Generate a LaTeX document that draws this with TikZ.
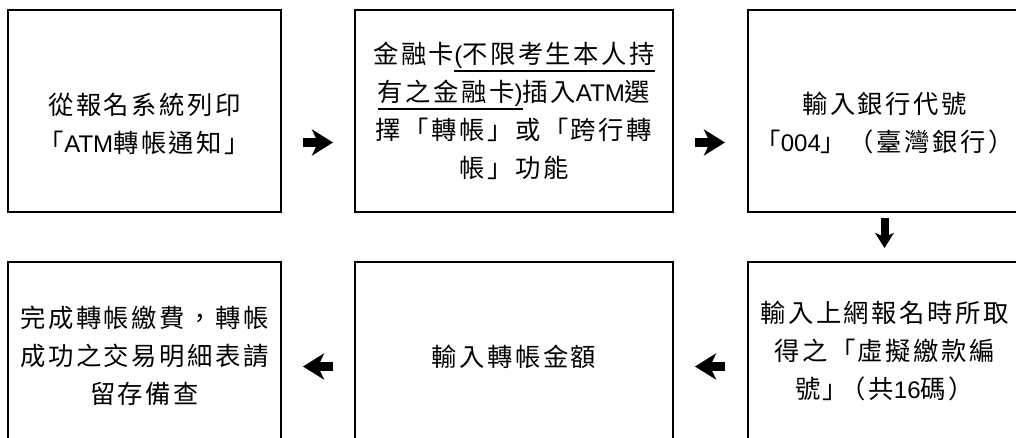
\documentclass[tikz,border=0pt]{standalone}
\usepackage{fontspec}
\setmainfont{Liberation Sans}
\newfontfamily\cjkfont{Noto Sans CJK TC}[LetterSpace=10]
\newfontfamily\latfont{Liberation Sans}[Scale=0.95]
\usetikzlibrary{arrows.meta,calc}
\newcommand\en[1]{{\latfont #1}}
\newcommand\undl[1]{\setbox0\hbox{#1}\rlap{\rule[-6pt]{\wd0}{1.5pt}}\box0}

\begin{document}
\begin{tikzpicture}[x=0.75pt,y=-0.75pt,
    stepbox/.style={draw,line width=1.8pt,minimum width=204.75pt,minimum height=151.5pt,inner sep=0pt},
    widebox/.style={stepbox,minimum width=238.5pt},
    steptext/.style={align=center,font=\cjkfont\fontsize{19pt}{28.5pt}\selectfont},
    flow/.style={line width=6.5pt,-{Stealth[length=15.75pt,width=19.5pt,inset=4.5pt]}},
    flowdown/.style={line width=6pt,-{Stealth[length=11.25pt,width=14pt,inset=3pt]}}]
    \useasboundingbox (0,0) rectangle (1016,438);
    % boxes
    \node[stepbox] (b1) at (144.5,111) {};
    \node[widebox] (b2) at (514,111) {};
    \node[stepbox] (b3) at (884.5,111) {};
    \node[stepbox] (b4) at (144.5,363) {};
    \node[widebox] (b5) at (514,363) {};
    \node[stepbox] (b6) at (884.5,363) {};
    % texts
    \node[steptext] (t1) at ($(b1.center)+(0,13)$) {從報名系統列印\\「\en{ATM}轉帳通知」};
    \node[steptext] (t2) at (b2.center) {金融卡\undl{\en{(}不限考生本人持}\\\undl{有之金融卡\en{)}}插入\en{ATM}選\\擇「轉帳」或「跨行轉\\帳」功能};
    \node[steptext] (t3) at ($(b3.center)+(0,12)$) {輸入銀行代號\\「\en{004}」（臺灣銀行）};
    \node[steptext] (t4) at ($(b4.center)+(0,-7)$) {完成轉帳繳費，轉帳\\成功之交易明細表請\\留存備查};
    \node[steptext] (t5) at ($(b5.center)+(0,-6)$) {輸入轉帳金額};
    \node[steptext] (t6) at ($(b6.center)+(0,-12)$) {輸入上網報名時所取\\得之「虛擬繳款編\\號」\kern-0.3em（共\en{16}碼）};
    % arrows
    \draw[flow,shorten <=15.6pt,shorten >=15.6pt] ($(b1.east)+(0,31.5)$) -- ($(b2.west)+(0,31.5)$);
    \draw[flow,shorten <=15.6pt,shorten >=16.4pt] ($(b2.east)+(0,31.5)$) -- ($(b3.west)+(0,31.5)$);
    \draw[flowdown,shorten <=3.75pt,shorten >=9.6pt] (b3.south) -- (b6.north);
    \draw[flow,shorten <=16.4pt,shorten >=15.6pt] ($(b6.west)+(0,3.5)$) -- ($(b5.east)+(0,3.5)$);
    \draw[flow,shorten <=15.6pt,shorten >=15.6pt] ($(b5.west)+(0,3.5)$) -- ($(b4.east)+(0,3.5)$);
\end{tikzpicture}
\end{document}
